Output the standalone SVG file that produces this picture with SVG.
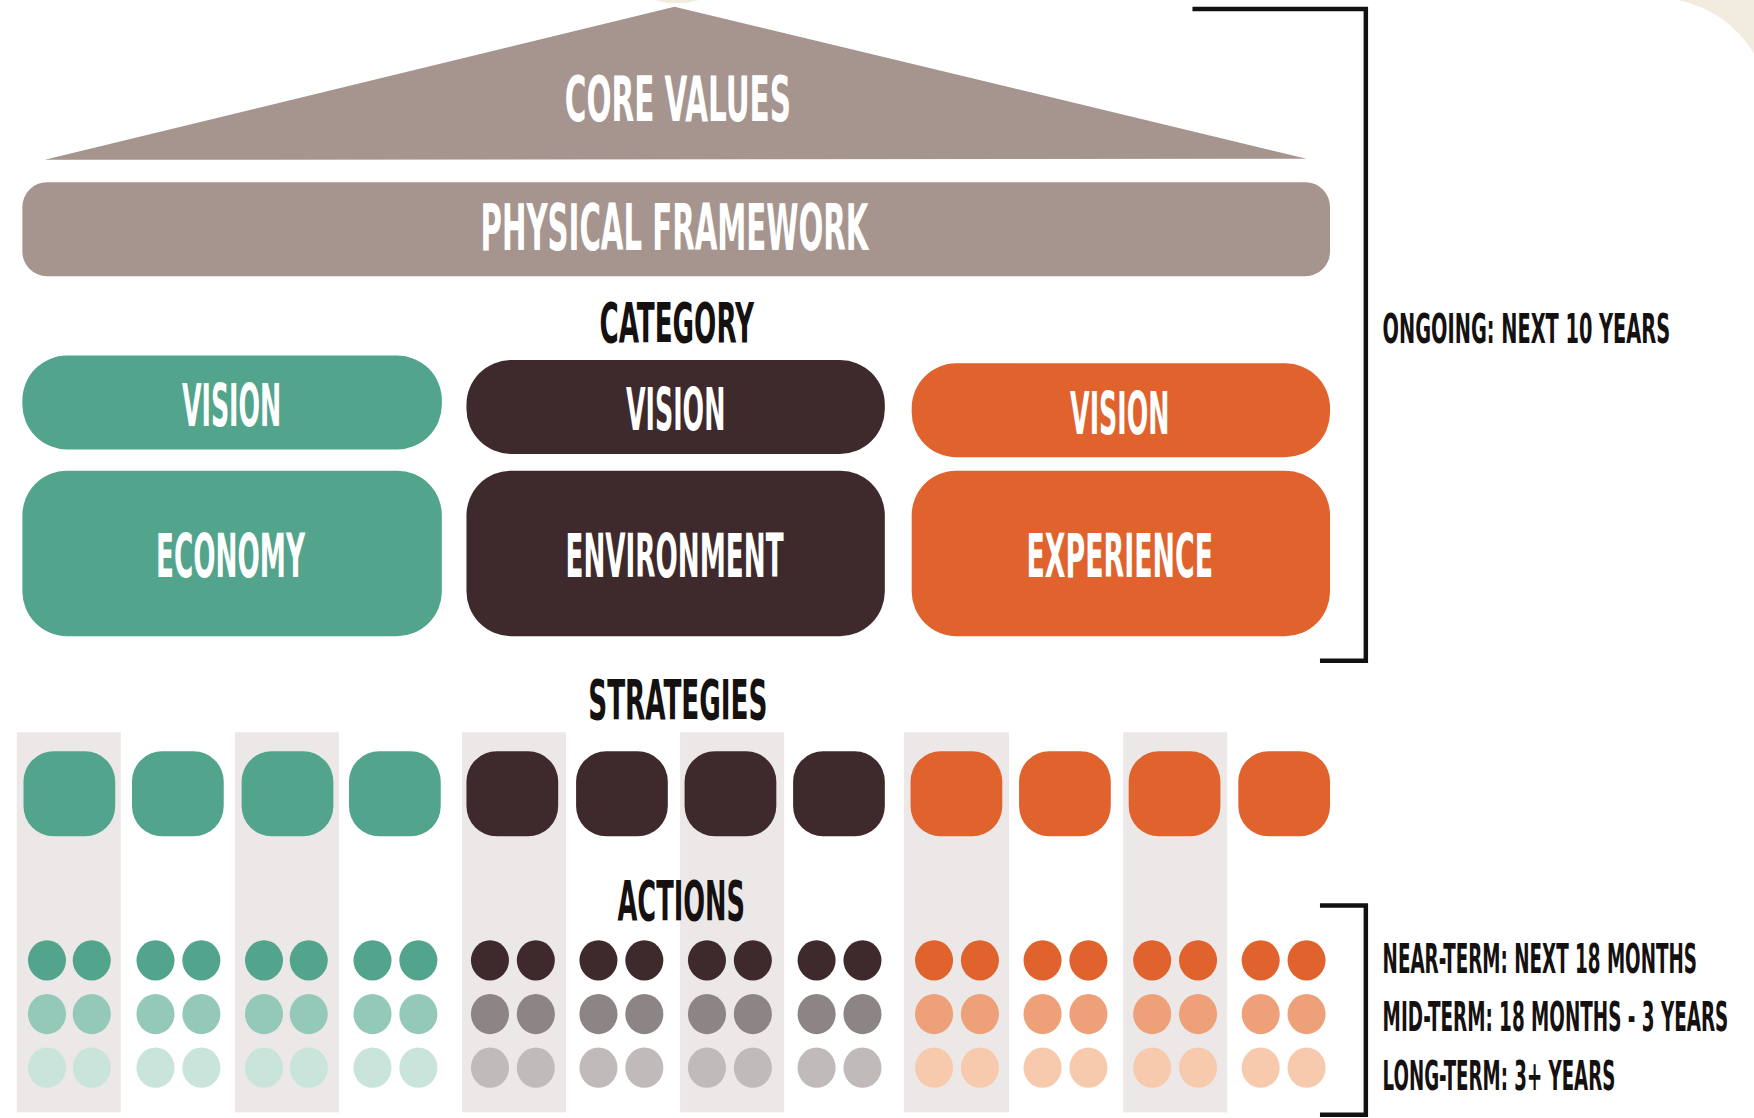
<svg xmlns="http://www.w3.org/2000/svg" width="1754" height="1118" viewBox="0 0 1754 1118">
<defs>
<style>
.t{font-family:"Liberation Sans Narrow","DejaVu Sans Condensed","Liberation Sans",sans-serif;font-weight:bold}
.w{fill:#ffffff;text-anchor:middle}
.k{fill:#151111}
.km{fill:#151111;text-anchor:middle}
.teal{fill:#52a48d}.dark{fill:#3e2a2c}.org{fill:#e0622c}.roof{fill:#a6958f}
.teal2{fill:#94c9b9}.teal3{fill:#c8e4db}
.dark2{fill:#8c8485}.dark3{fill:#c0baba}
.org2{fill:#eea079}.org3{fill:#f7caae}
.col{fill:#ece8e8}
.br{fill:none;stroke:#111;stroke-width:4}
</style>
</defs>
<rect width="1754" height="1118" fill="#ffffff"/>
<g transform="scale(1.11862,1.118)">
<path d="M1500 0 L1568 0 L1568 48 Q1545 10 1500 0 Z" fill="#f1ecdd"/>
<path d="M585 0 L625 0 Q605 6 585 0 Z" fill="#f1ecdd"/>
<g id="core-values">
<polygon class="roof" points="603,6 1168,142 40,143"/>
<text class="t w" transform="translate(606,108) scale(0.6,1)" x="0" y="0" font-size="56" textLength="337" lengthAdjust="spacingAndGlyphs">CORE VALUES</text>
</g>
<g id="physical-framework">
<rect class="roof" x="20" y="163" width="1169" height="84" rx="22"/>
<text class="t w" transform="translate(603,224) scale(0.6,1)" x="0" y="0" font-size="57" textLength="578" lengthAdjust="spacingAndGlyphs">PHYSICAL FRAMEWORK</text>
</g>
<g id="category-label">
<text class="t km" transform="translate(605,306) scale(0.6,1)" x="0" y="0" font-size="50" textLength="230" lengthAdjust="spacingAndGlyphs">CATEGORY</text>
</g>
<g id="vision-economy">
<rect class="teal" x="20" y="318" width="375" height="84" rx="40"/>
<text class="t w" transform="translate(207,381) scale(0.6,1)" x="0" y="0" font-size="53" textLength="148" lengthAdjust="spacingAndGlyphs">VISION</text>
</g>
<g id="vision-environment">
<rect class="dark" x="417" y="322" width="374" height="84" rx="40"/>
<text class="t w" transform="translate(604,385) scale(0.6,1)" x="0" y="0" font-size="53" textLength="148" lengthAdjust="spacingAndGlyphs">VISION</text>
</g>
<g id="vision-experience">
<rect class="org" x="815" y="325" width="374" height="84" rx="40"/>
<text class="t w" transform="translate(1001,388) scale(0.6,1)" x="0" y="0" font-size="53" textLength="148" lengthAdjust="spacingAndGlyphs">VISION</text>
</g>
<g id="economy">
<rect class="teal" x="20" y="421" width="375" height="148" rx="40"/>
<text class="t w" transform="translate(206,516) scale(0.6,1)" x="0" y="0" font-size="54" textLength="222" lengthAdjust="spacingAndGlyphs">ECONOMY</text>
</g>
<g id="environment">
<rect class="dark" x="417" y="421" width="374" height="148" rx="40"/>
<text class="t w" transform="translate(603,516) scale(0.6,1)" x="0" y="0" font-size="54" textLength="325" lengthAdjust="spacingAndGlyphs">ENVIRONMENT</text>
</g>
<g id="experience">
<rect class="org" x="815" y="421" width="374" height="148" rx="40"/>
<text class="t w" transform="translate(1001,516) scale(0.6,1)" x="0" y="0" font-size="54" textLength="278" lengthAdjust="spacingAndGlyphs">EXPERIENCE</text>
</g>
<g id="ongoing">
<path class="br" d="M1066 8 H1221 V591 H1180"/>
<text class="t k" transform="translate(1236,307) scale(0.5,1)" x="0" y="0" font-size="36" textLength="514" lengthAdjust="spacingAndGlyphs">ONGOING: NEXT 10 YEARS</text>
</g>
<g id="columns">
<rect class="col" x="15" y="655" width="93" height="340"/>
<rect class="col" x="210" y="655" width="93" height="340"/>
<rect class="col" x="413" y="655" width="93" height="340"/>
<rect class="col" x="608" y="655" width="93" height="340"/>
<rect class="col" x="808" y="655" width="94" height="340"/>
<rect class="col" x="1004" y="655" width="93" height="340"/>
</g>
<g id="strategies-label">
<text class="t km" transform="translate(606,643) scale(0.6,1)" x="0" y="0" font-size="50" textLength="267" lengthAdjust="spacingAndGlyphs">STRATEGIES</text>
</g>
<g id="strategies">
<rect class="teal" x="21" y="672" width="82" height="76" rx="27"/>
<rect class="teal" x="118" y="672" width="82" height="76" rx="27"/>
<rect class="teal" x="216" y="672" width="82" height="76" rx="27"/>
<rect class="teal" x="312" y="672" width="82" height="76" rx="27"/>
<rect class="dark" x="417" y="672" width="82" height="76" rx="27"/>
<rect class="dark" x="515" y="672" width="82" height="76" rx="27"/>
<rect class="dark" x="612" y="672" width="82" height="76" rx="27"/>
<rect class="dark" x="709" y="672" width="82" height="76" rx="27"/>
<rect class="org" x="814" y="672" width="82" height="76" rx="27"/>
<rect class="org" x="911" y="672" width="82" height="76" rx="27"/>
<rect class="org" x="1009" y="672" width="82" height="76" rx="27"/>
<rect class="org" x="1107" y="672" width="82" height="76" rx="27"/>
</g>
<g id="actions-label">
<text class="t km" transform="translate(609,823) scale(0.6,1)" x="0" y="0" font-size="50" textLength="190" lengthAdjust="spacingAndGlyphs">ACTIONS</text>
</g>
<g id="actions">
<g class="teal"><ellipse cx="42" cy="859" rx="17" ry="18"/><ellipse cx="82" cy="859" rx="17" ry="18"/><ellipse cx="139" cy="859" rx="17" ry="18"/><ellipse cx="180" cy="859" rx="17" ry="18"/><ellipse cx="236" cy="859" rx="17" ry="18"/><ellipse cx="276" cy="859" rx="17" ry="18"/><ellipse cx="333" cy="859" rx="17" ry="18"/><ellipse cx="374" cy="859" rx="17" ry="18"/></g>
<g class="teal2"><ellipse cx="42" cy="907" rx="17" ry="18"/><ellipse cx="82" cy="907" rx="17" ry="18"/><ellipse cx="139" cy="907" rx="17" ry="18"/><ellipse cx="180" cy="907" rx="17" ry="18"/><ellipse cx="236" cy="907" rx="17" ry="18"/><ellipse cx="276" cy="907" rx="17" ry="18"/><ellipse cx="333" cy="907" rx="17" ry="18"/><ellipse cx="374" cy="907" rx="17" ry="18"/></g>
<g class="teal3"><ellipse cx="42" cy="955" rx="17" ry="18"/><ellipse cx="82" cy="955" rx="17" ry="18"/><ellipse cx="139" cy="955" rx="17" ry="18"/><ellipse cx="180" cy="955" rx="17" ry="18"/><ellipse cx="236" cy="955" rx="17" ry="18"/><ellipse cx="276" cy="955" rx="17" ry="18"/><ellipse cx="333" cy="955" rx="17" ry="18"/><ellipse cx="374" cy="955" rx="17" ry="18"/></g>
<g class="dark"><ellipse cx="438" cy="859" rx="17" ry="18"/><ellipse cx="479" cy="859" rx="17" ry="18"/><ellipse cx="535" cy="859" rx="17" ry="18"/><ellipse cx="576" cy="859" rx="17" ry="18"/><ellipse cx="632" cy="859" rx="17" ry="18"/><ellipse cx="673" cy="859" rx="17" ry="18"/><ellipse cx="730" cy="859" rx="17" ry="18"/><ellipse cx="771" cy="859" rx="17" ry="18"/></g>
<g class="dark2"><ellipse cx="438" cy="907" rx="17" ry="18"/><ellipse cx="479" cy="907" rx="17" ry="18"/><ellipse cx="535" cy="907" rx="17" ry="18"/><ellipse cx="576" cy="907" rx="17" ry="18"/><ellipse cx="632" cy="907" rx="17" ry="18"/><ellipse cx="673" cy="907" rx="17" ry="18"/><ellipse cx="730" cy="907" rx="17" ry="18"/><ellipse cx="771" cy="907" rx="17" ry="18"/></g>
<g class="dark3"><ellipse cx="438" cy="955" rx="17" ry="18"/><ellipse cx="479" cy="955" rx="17" ry="18"/><ellipse cx="535" cy="955" rx="17" ry="18"/><ellipse cx="576" cy="955" rx="17" ry="18"/><ellipse cx="632" cy="955" rx="17" ry="18"/><ellipse cx="673" cy="955" rx="17" ry="18"/><ellipse cx="730" cy="955" rx="17" ry="18"/><ellipse cx="771" cy="955" rx="17" ry="18"/></g>
<g class="org"><ellipse cx="835" cy="859" rx="17" ry="18"/><ellipse cx="876" cy="859" rx="17" ry="18"/><ellipse cx="932" cy="859" rx="17" ry="18"/><ellipse cx="973" cy="859" rx="17" ry="18"/><ellipse cx="1030" cy="859" rx="17" ry="18"/><ellipse cx="1071" cy="859" rx="17" ry="18"/><ellipse cx="1127" cy="859" rx="17" ry="18"/><ellipse cx="1168" cy="859" rx="17" ry="18"/></g>
<g class="org2"><ellipse cx="835" cy="907" rx="17" ry="18"/><ellipse cx="876" cy="907" rx="17" ry="18"/><ellipse cx="932" cy="907" rx="17" ry="18"/><ellipse cx="973" cy="907" rx="17" ry="18"/><ellipse cx="1030" cy="907" rx="17" ry="18"/><ellipse cx="1071" cy="907" rx="17" ry="18"/><ellipse cx="1127" cy="907" rx="17" ry="18"/><ellipse cx="1168" cy="907" rx="17" ry="18"/></g>
<g class="org3"><ellipse cx="835" cy="955" rx="17" ry="18"/><ellipse cx="876" cy="955" rx="17" ry="18"/><ellipse cx="932" cy="955" rx="17" ry="18"/><ellipse cx="973" cy="955" rx="17" ry="18"/><ellipse cx="1030" cy="955" rx="17" ry="18"/><ellipse cx="1071" cy="955" rx="17" ry="18"/><ellipse cx="1127" cy="955" rx="17" ry="18"/><ellipse cx="1168" cy="955" rx="17" ry="18"/></g>
</g>
<g id="terms">
<path class="br" d="M1180 810 H1221 V997 H1180"/>
<text class="t k" transform="translate(1236,870) scale(0.5,1)" x="0" y="0" font-size="36" textLength="562" lengthAdjust="spacingAndGlyphs">NEAR-TERM: NEXT 18 MONTHS</text>
<text class="t k" transform="translate(1236,922) scale(0.5,1)" x="0" y="0" font-size="36" textLength="618" lengthAdjust="spacingAndGlyphs">MID-TERM: 18 MONTHS - 3 YEARS</text>
<text class="t k" transform="translate(1236,975) scale(0.5,1)" x="0" y="0" font-size="36" textLength="416" lengthAdjust="spacingAndGlyphs">LONG-TERM: 3+ YEARS</text>
</g>
</g>
</svg>
